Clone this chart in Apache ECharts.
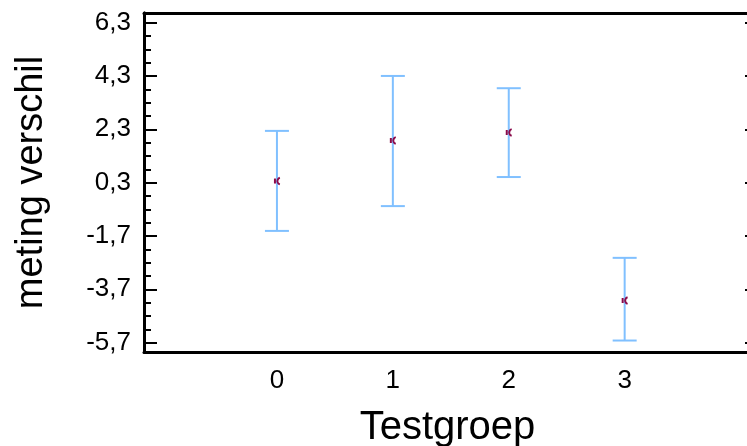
<!DOCTYPE html>
<html>
<head>
<meta charset="utf-8">
<script src="https://cdn.jsdelivr.net/npm/echarts@6/dist/echarts.min.js"></script>
<style>
    html, body {margin: 0; padding: 0; background: #fff;}
    #chart {width: 747px; height: 446px;}
</style>
</head>
<body>
<div id="chart"></div>
<script>
const groups = [0, 1, 2, 3];
const means = [0.36, 1.88, 2.18, -4.12];
const upper = [2.24, 4.3, 3.84, -2.52];
const lower = [-1.51, -0.58, 0.51, -5.62];
const yMajor = [-5.7, -3.7, -1.7, 0.3, 2.3, 4.3, 6.3];
const yMinor = [-5.7, -5.2, -4.7, -4.2, -3.7, -3.2, -2.7, -2.2, -1.7, -1.2, -0.7, -0.2,
    0.3, 0.8, 1.3, 1.8, 2.3, 2.8, 3.3, 3.8, 4.3, 4.8, 5.3, 5.8, 6.3];

const font = '"Liberation Sans", Arial, sans-serif';
const barColor = '#80c0ff';
const markColor = '#8a0a4a';
const fmt = v => v.toFixed(1).replace('.', ',');

const chart = echarts.init(document.getElementById('chart'), null, {renderer: 'canvas'});

const axisLine = {show: true, onZero: false, lineStyle: {color: '#000', width: 3}};
const yBase = {
    type: 'value',
    min: -6.05,
    max: 6.66,
    splitLine: {show: false},
};

chart.setOption({
    animation: false,
    grid: {left: 144, top: 13, right: -4, bottom: 94, containLabel: false, outerBoundsMode: 'none'},
    xAxis: [{
        type: 'value',
        min: -1.147,
        max: 4.09,
        name: 'Testgroep',
        nameLocation: 'middle',
        nameGap: 56,
        nameTextStyle: {fontFamily: font, fontSize: 40, color: '#000'},
        axisLine,
        axisTick: {show: false},
        splitLine: {show: false},
        axisLabel: {
            customValues: groups,
            margin: 16,
            fontFamily: font,
            fontSize: 26,
            color: '#000',
        },
    }, {
        type: 'value',
        position: 'top',
        min: -1.147,
        max: 4.09,
        axisLine,
        axisTick: {show: false},
        axisLabel: {show: false},
        splitLine: {show: false},
    }],
    yAxis: [{
        ...yBase,
        position: 'left',
        name: 'meting verschil',
        nameLocation: 'middle',
        nameGap: 93,
        nameTextStyle: {fontFamily: font, fontSize: 38, color: '#000'},
        axisLine,
        axisTick: {
            inside: true,
            length: 13,
            customValues: yMajor,
            lineStyle: {color: '#000', width: 2},
        },
        axisLabel: {
            customValues: yMajor,
            formatter: fmt,
            margin: 13,
            fontFamily: font,
            fontSize: 26,
            color: '#000',
        },
    }, {
        ...yBase,
        position: 'left',
        axisLine,
        axisTick: {
            inside: true,
            length: 7,
            customValues: yMinor,
            lineStyle: {color: '#000', width: 2},
        },
        axisLabel: {show: false},
    }, {
        ...yBase,
        position: 'right',
        axisLine,
        axisTick: {
            inside: true,
            length: 6,
            customValues: yMajor,
            lineStyle: {color: '#000', width: 2},
        },
        axisLabel: {show: false},
    }],
    series: [{
        type: 'custom',
        xAxisIndex: 0,
        yAxisIndex: 0,
        encode: {x: 0, y: [1, 2, 3]},
        data: groups.map((g, i) => [g, means[i], lower[i], upper[i]]),
        renderItem(params, api) {
            const x = api.value(0);
            const mid = api.coord([x, api.value(1)]);
            const lo = api.coord([x, api.value(2)]);
            const hi = api.coord([x, api.value(3)]);
            const cap = 12;
            const lineStyle = {stroke: barColor, lineWidth: 2};
            return {
                type: 'group',
                children: [{
                    type: 'line',
                    shape: {x1: hi[0], y1: hi[1], x2: lo[0], y2: lo[1]},
                    style: lineStyle,
                }, {
                    type: 'line',
                    shape: {x1: hi[0] - cap, y1: hi[1], x2: hi[0] + cap, y2: hi[1]},
                    style: lineStyle,
                }, {
                    type: 'line',
                    shape: {x1: lo[0] - cap, y1: lo[1], x2: lo[0] + cap, y2: lo[1]},
                    style: lineStyle,
                }, {
                    type: 'rect',
                    shape: {x: mid[0] - 3, y: mid[1] - 2.5, width: 2, height: 5},
                    style: {fill: markColor},
                }, {
                    type: 'arc',
                    shape: {cx: mid[0] + 4, cy: mid[1], r: 3.5, startAngle: Math.PI * 0.6, endAngle: Math.PI * 1.4},
                    style: {stroke: markColor, fill: null, lineWidth: 2},
                }],
            };
        },
    }],
});
</script>
</body>
</html>
